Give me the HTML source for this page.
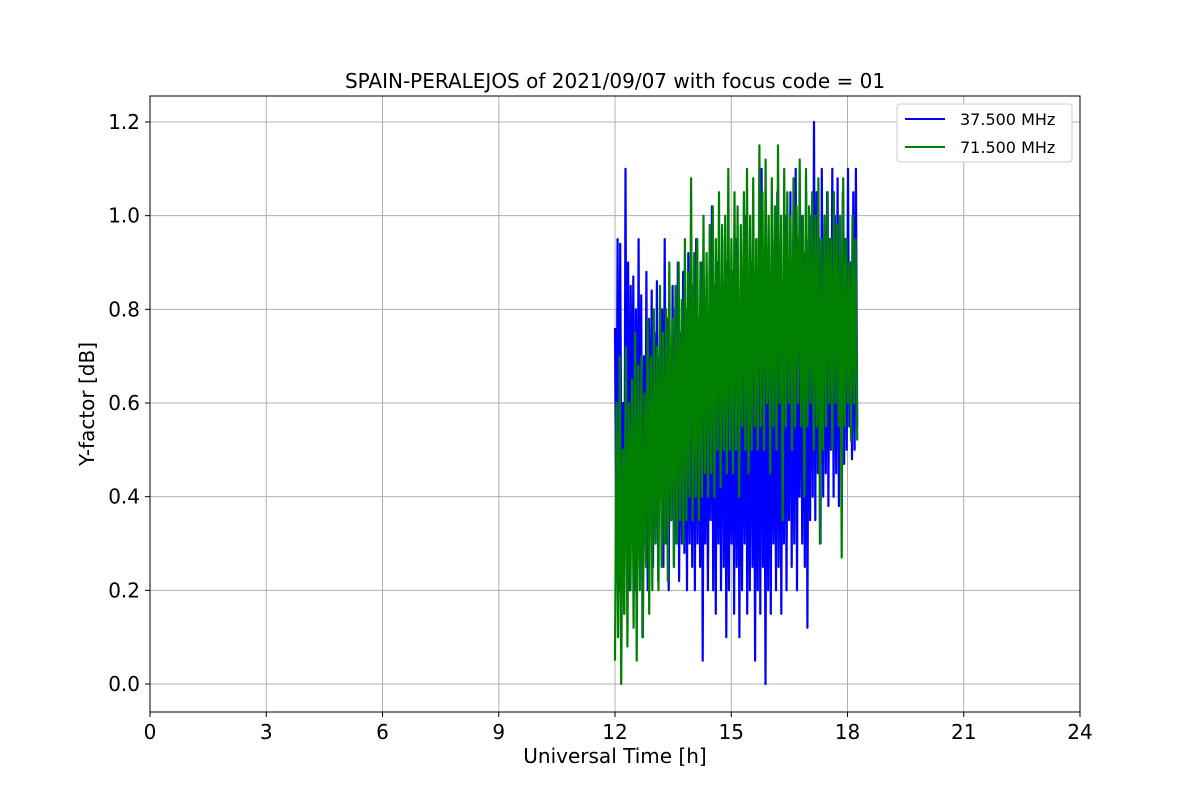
<!DOCTYPE html>
<html><head><meta charset="utf-8"><style>
body{margin:0;background:#fff;}
svg text{font-family:"DejaVu Sans","Liberation Sans",sans-serif;}
</style></head><body>
<svg id="chart" width="1200" height="800" xmlns="http://www.w3.org/2000/svg">
<rect width="1200" height="800" fill="#fff"/>
<g id="grid"></g>
<g id="series"></g>
<rect x="150" y="96" width="930" height="616" fill="none" stroke="#000" stroke-width="1"/>
<g id="ticks"></g>
<text x="615" y="88" text-anchor="middle" font-size="20">SPAIN-PERALEJOS of 2021/09/07 with focus code = 01</text>
<text x="615" y="763" text-anchor="middle" font-size="20">Universal Time [h]</text>
<text transform="translate(94,404) rotate(-90)" text-anchor="middle" font-size="20">Y-factor [dB]</text>
<g>
<rect x="897" y="104" width="175" height="58" rx="3" fill="#fff" stroke="#ccc"/>
<line x1="905" y1="119" x2="945" y2="119" stroke="blue" stroke-width="2"/>
<text x="960" y="125" font-size="16">37.500 MHz</text>
<line x1="905" y1="147" x2="945" y2="147" stroke="green" stroke-width="2"/>
<text x="960" y="153" font-size="16">71.500 MHz</text>
</g>
</svg>
<script>
const xTicks=[0,3,6,9,12,15,18,21,24];
const yTicks=[0.0,0.2,0.4,0.6,0.8,1.0,1.2];
const tStart=12.0, tEnd=18.25;
const blueValues=[
0.76,0.3,0.95,0.2,0.94,0.35,0.6,0.15,1.1,0.3,0.9,0.2,0.85,0.4,0.87,0.2,0.8,0.3,0.95,0.25,0.83,0.1,0.7,0.3,0.88,0.2,0.78,0.35,0.84,0.25,
0.75,0.3,0.86,0.22,0.7,0.4,0.8,0.25,0.95,0.3,0.78,0.2,0.72,0.35,0.85,0.25,0.8,0.3,0.9,0.22,0.75,0.3,0.88,0.28,0.8,0.2,0.92,0.3,0.75,0.25,
0.85,0.2,0.95,0.3,0.78,0.25,0.9,0.05,0.8,0.3,0.88,0.2,0.75,0.35,1.02,0.2,0.85,0.15,0.9,0.3,0.8,0.2,0.95,0.25,0.85,0.1,0.9,0.2,0.75,0.3,
0.88,0.15,0.95,0.25,0.8,0.1,0.92,0.2,0.85,0.3,1.0,0.15,0.78,0.2,0.9,0.25,0.82,0.05,0.95,0.2,0.88,0.15,1.1,0.25,0.8,0.0,0.9,0.2,0.85,0.15,
0.95,0.3,0.78,0.2,1.05,0.25,0.9,0.15,0.85,0.3,1.0,0.2,0.88,0.35,1.05,0.25,0.9,0.3,1.1,0.2,0.95,0.4,1.0,0.3,0.92,0.25,1.05,0.12,0.95,0.35,
1.0,0.4,1.2,0.35,1.05,0.45,0.95,0.3,1.1,0.4,1.0,0.45,1.05,0.38,0.95,0.5,1.1,0.4,1.0,0.45,1.08,0.38,0.9,0.5,1.05,0.47,0.95,0.5,1.1,0.55,
0.9,0.48,1.05,0.5,1.1,0.55];
const greenValues=[
0.05,0.6,0.1,0.7,0.0,0.5,0.15,0.72,0.08,0.6,0.2,0.65,0.12,0.75,0.05,0.68,0.2,0.7,0.1,0.62,0.25,0.78,0.15,0.7,0.2,0.8,0.3,0.72,0.2,0.85,
0.25,0.75,0.3,0.8,0.22,0.9,0.35,0.78,0.25,0.85,0.3,0.9,0.35,0.82,0.3,0.95,0.35,0.88,0.4,1.08,0.35,0.92,0.4,0.95,0.35,0.9,0.4,1.0,0.45,0.92,
0.4,0.98,0.45,1.02,0.4,0.95,0.5,1.05,0.42,0.98,0.5,1.0,0.45,1.1,0.5,0.95,0.45,1.05,0.5,1.02,0.4,0.98,0.55,1.05,0.5,1.1,0.45,1.0,0.5,1.08,
0.55,0.95,0.5,1.15,0.55,1.05,0.5,1.12,0.6,1.0,0.45,1.08,0.55,1.02,0.5,1.15,0.6,1.0,0.35,1.1,0.55,1.05,0.6,1.0,0.5,1.08,0.55,1.02,0.6,1.12,
0.55,1.0,0.4,1.1,0.55,1.02,0.6,1.05,0.5,1.0,0.55,1.08,0.3,0.95,0.5,1.0,0.55,1.05,0.6,0.95,0.5,1.05,0.6,0.98,0.55,1.0,0.27,1.08,0.55,0.95,
0.6,0.9,0.52,1.0,0.6,0.95,0.52];
const NS="http://www.w3.org/2000/svg";
function xs(v){return 150+v*(930/24);}
function ys(v){return 684-v*(562/1.2);}
const grid=document.getElementById('grid'),ticks=document.getElementById('ticks'),ser=document.getElementById('series');
function mk(tag,attrs,parent){const e=document.createElementNS(NS,tag);for(const k in attrs)e.setAttribute(k,attrs[k]);parent.appendChild(e);return e;}
xTicks.forEach(t=>{
  const g=mk('line',{x1:xs(t),x2:xs(t),y1:96,y2:712,stroke:'#b0b0b0','stroke-width':1},grid);
  
  
  mk('line',{x1:xs(t),x2:xs(t),y1:712,y2:717,stroke:'#000'},ticks);
  const tx=mk('text',{x:xs(t),y:739,'text-anchor':'middle','font-size':20},ticks);
  tx.textContent=t;
  
  
});
yTicks.forEach(t=>{
  const g=mk('line',{x1:150,x2:1080,y1:ys(t),y2:ys(t),stroke:'#b0b0b0','stroke-width':1},grid);
  
  
  mk('line',{x1:145,x2:150,y1:ys(t),y2:ys(t),stroke:'#000'},ticks);
  const tx=mk('text',{x:140,y:ys(t)+7,'text-anchor':'end','font-size':20},ticks);
  tx.textContent=t.toFixed(1);
  
  
});
function line(vals,color,name){
  const n=vals.length;
  const pts=vals.map((v,i)=>xs(tStart+i*(tEnd-tStart)/(n-1)).toFixed(1)+','+ys(v).toFixed(1)).join(' ');
  const p=mk('polyline',{points:pts,fill:'none',stroke:color,'stroke-width':2.2,'stroke-linejoin':'round'},ser);
  
  
}
line(blueValues,'blue','series-37mhz');
line(greenValues,'green','series-71mhz');
</script>
</body></html>
